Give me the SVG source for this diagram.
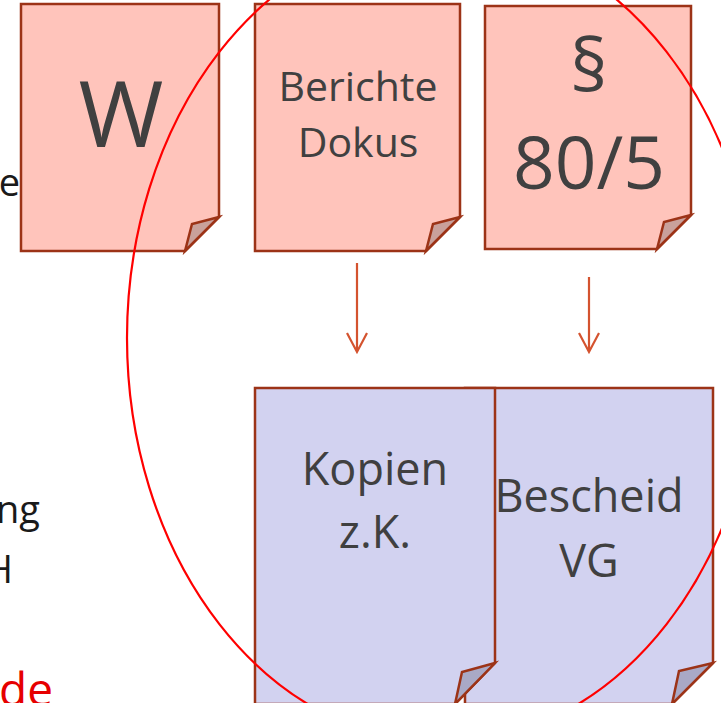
<svg xmlns="http://www.w3.org/2000/svg" width="721" height="703" viewBox="0 0 721 703">
<style>
.pink{fill:#FFC4BB;stroke:#9C3317;stroke-width:2.5;stroke-linejoin:miter}
.pfold{fill:#C9A19B;stroke:#9C3317;stroke-width:2.5}
.blue{fill:#D2D2F0;stroke:#9C3317;stroke-width:2.5}
.bfold{fill:#A9A9C6;stroke:#9C3317;stroke-width:2.5}
.t{font-family:"Open Sans","Noto Sans",sans-serif;fill:#404040;text-anchor:middle}
.l{font-family:"Open Sans","Noto Sans",sans-serif;fill:#1a1a1a;text-anchor:end;font-size:38px}
.arr{stroke:#D4532F;stroke-width:2.2;fill:none}
</style>
<rect width="721" height="703" fill="#FFFFFF"/>
<g id="left-text">
<text class="l" x="20" y="196">e</text>
<text class="l" x="40" y="523">ng</text>
<text class="l" x="13" y="583">H</text>
<text class="l" x="53" y="706" style="fill:#E60000;font-size:46px">de</text>
</g>
<g id="doc-w">
<path class="pink" d="M21,4 H219 V217 L185,251 H21 Z"/>
<path class="pfold" d="M219,217 L192,224 L185,251 Z"/>
<text class="t" x="121" y="147" font-size="92">W</text>
</g>
<g id="doc-berichte">
<path class="pink" d="M255,4 H460 V217 L426,251 H255 Z"/>
<path class="pfold" d="M460,217 L433,224 L426,251 Z"/>
<text class="t" x="358" y="101" font-size="41">Berichte</text>
<text class="t" x="358" y="157" font-size="41">Dokus</text>
</g>
<g id="doc-paragraph">
<path class="pink" d="M485,6 H691 V215 L657,249 H485 Z"/>
<path class="pfold" d="M691,215 L664,222 L657,249 Z"/>
<text class="t" x="589" y="92" font-size="74">§</text>
<text class="t" x="589" y="189" font-size="73">80/5</text>
</g>
<g id="doc-bescheid">
<path class="blue" d="M465,388 H713 V663 L672,704 H465 Z"/>
<path class="bfold" d="M713,663 L679,671 L672,704 Z"/>
<text class="t" x="589" y="512" font-size="45">Bescheid</text>
<text class="t" x="589" y="577" font-size="45">VG</text>
</g>
<g id="doc-kopien">
<path class="blue" d="M255,388 H495 V663 L455,704 H255 Z"/>
<path class="bfold" d="M495,663 L462,672 L455,704 Z"/>
<text class="t" x="375" y="485" font-size="45">Kopien</text>
<text class="t" x="375" y="548" font-size="45">z.K.</text>
</g>
<g id="connectors">
<path class="arr" d="M357,263 V351 M347,333 L357,352 L367,333"/>
<path class="arr" d="M589,277 V351 M579,333 L589,352 L599,333"/>
</g>
<g id="highlight">
<ellipse cx="443" cy="338" rx="316" ry="405" fill="none" stroke="#FF0000" stroke-width="2.2"/>
</g>
</svg>
